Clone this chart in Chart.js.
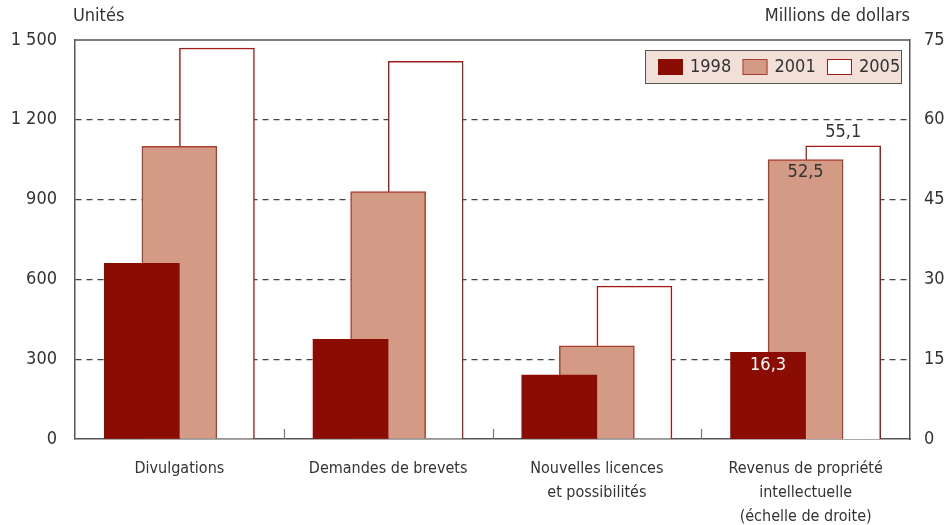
<!DOCTYPE html>
<html>
<head>
<meta charset="utf-8">
<script src="https://cdn.jsdelivr.net/npm/chart.js@4"></script>
<style>
  html, body { margin: 0; padding: 0; background: #fff; }
  #wrap { width: 951px; height: 525px; position: relative; }
</style>
</head>
<body>
<div id="wrap"><canvas id="chart"></canvas></div>
<script>
const categories = [
  ["Divulgations"],
  ["Demandes de brevets"],
  ["Nouvelles licences", "et possibilités"],
  ["Revenus de propriété", "intellectuelle", "(échelle de droite)"],
];
const years = ["1998", "2001", "2005"];

// unités, échelle de gauche (3 premières catégories)
const units1998 = [660, 375, 240];
const units2001 = [1100, 930, 350];
const units2005 = [1470, 1420, 575];

// revenus en millions de dollars, échelle de droite (1998, 2001, 2005)
const revenue = [16.3, 52.5, 55.1];

const leftMax = 1500, leftStep = 300;
const rightMax = 75, rightStep = 15;

const FONT = "'Liberation Sans Narrow', 'DejaVu Sans Condensed', 'Roboto', sans-serif";
const TEXT = "#333";
const fills = ["#8b0c02", "#d39a86", "#ffffff"];
const strokes = ["#8b0c02", "#a8402f", "#a31a1a"];
const shift = [-0.18, 0, 0.18];

function fmt(v) {
  const s = String(v).split(".");
  s[0] = s[0].replace(/\B(?=(\d{3})+(?!\d))/g, "\u00a0");
  return s.join(",");
}

const datasets = [];
[units1998, units2001, units2005].forEach((vals, k) => {
  datasets.push({
    label: years[k],
    data: vals.map((v, i) => ({ x: i + shift[k], y: v })),
    backgroundColor: fills[k],
    borderColor: strokes[k],
    borderWidth: k ? 1.5 : 0,
    xAxisID: "xb",
    yAxisID: "y",
  });
});
revenue.forEach((v, k) => {
  datasets.push({
    label: years[k] + " revenus",
    data: [{ x: 3 + shift[k], y: v }],
    backgroundColor: fills[k],
    borderColor: strokes[k],
    borderWidth: k ? 1.5 : 0,
    xAxisID: "xb",
    yAxisID: "y2",
    revenue: true,
  });
});

// frame, inner tick marks, titles, value labels and boxed legend
const decor = {
  id: "decor",
  afterDatasetsDraw(chart) {
    const { ctx, chartArea: a } = chart;
    const xb = chart.scales.xb;
    ctx.save();
    ctx.strokeStyle = "#555";
    ctx.lineWidth = 1.5;
    ctx.beginPath();
    ctx.moveTo(a.left, a.top);
    ctx.lineTo(a.right, a.top);
    ctx.stroke();

    ctx.strokeStyle = "#777";
    ctx.lineWidth = 1.2;
    for (let i = 0; i < categories.length - 1; i++) {
      const px = Math.round(xb.getPixelForValue(i + 0.5)) + 0.5;
      ctx.beginPath();
      ctx.moveTo(px, a.bottom);
      ctx.lineTo(px, a.bottom - 10);
      ctx.stroke();
    }

    ctx.font = "18px " + FONT;
    ctx.fillStyle = TEXT;
    ctx.textBaseline = "middle";
    ctx.textAlign = "left";
    ctx.fillText("Unités", a.left - 2, 16);
    ctx.textAlign = "right";
    ctx.fillText("Millions de dollars", a.right, 16);

    // revenue values
    ctx.textAlign = "center";
    chart.data.datasets.forEach((ds, di) => {
      if (!ds.revenue) return;
      const bar = chart.getDatasetMeta(di).data[0];
      const k = di - 3;
      const txt = fmt(revenue[k]);
      if (k === 0) {
        ctx.fillStyle = "#fff";
        ctx.fillText(txt, bar.x, bar.y + 13);
      } else if (k === 1) {
        ctx.fillStyle = TEXT;
        ctx.fillText(txt, bar.x, bar.y + 13);
      } else {
        ctx.fillStyle = TEXT;
        ctx.fillText(txt, bar.x, bar.y - 14);
      }
    });

    // legend box
    const bx = a.right - 265, by = a.top + 10, bw = 256, bh = 33;
    ctx.fillStyle = "#f2dfd8";
    ctx.fillRect(bx, by, bw, bh);
    ctx.strokeStyle = "#555";
    ctx.lineWidth = 1;
    ctx.strokeRect(bx + 0.5, by + 0.5, bw, bh);
    years.forEach((y, k) => {
      const sx = bx + 13 + k * 84.5;
      const sy = by + 9;
      ctx.fillStyle = fills[k];
      ctx.fillRect(sx, sy, 25, 16);
      ctx.strokeStyle = strokes[k];
      ctx.lineWidth = 1;
      ctx.strokeRect(sx + 0.5, sy + 0.5, 24, 15);
      ctx.fillStyle = TEXT;
      ctx.textAlign = "left";
      ctx.fillText(y, sx + 32, by + bh / 2 + 1);
    });
    ctx.restore();
  },
};

new Chart(document.getElementById("chart"), {
  type: "bar",
  data: { labels: categories, datasets },
  plugins: [decor],
  options: {
    responsive: true,
    maintainAspectRatio: false,
    animation: false,
    layout: { padding: { top: 40 } },
    datasets: { bar: { grouped: false, barThickness: 75, borderSkipped: "start" } },
    plugins: { legend: { display: false }, tooltip: { enabled: false } },
    scales: {
      x: {
        type: "category",
        position: "bottom",
        offset: true,
        grid: { display: false },
        border: { display: true, color: "#555", width: 1.5 },
        ticks: {
          color: TEXT,
          font: { family: FONT, size: 16, lineHeight: 1.5 },
          padding: 10,
          maxRotation: 0,
          autoSkip: false,
        },
        afterFit: (s) => { s.height = 86; },
      },
      xb: { type: "linear", display: false, offset: false, min: -0.5, max: 3.5 },
      y: {
        position: "left",
        min: 0,
        max: leftMax,
        ticks: {
          stepSize: leftStep,
          color: TEXT,
          font: { family: FONT, size: 18 },
          padding: 18,
          callback: (v) => fmt(v),
        },
        grid: {
          drawTicks: false,
          lineWidth: 1.2,
          color: (c) => (c.tick && (c.tick.value === 0 || c.tick.value === leftMax) ? "rgba(0,0,0,0)" : "#444"),
        },
        border: { color: "#555", width: 1.5, dash: [6, 5] },
        afterFit: (s) => { s.width = 75; },
      },
      y2: {
        position: "right",
        min: 0,
        max: rightMax,
        ticks: {
          stepSize: rightStep,
          color: TEXT,
          font: { family: FONT, size: 18 },
          padding: 14,
          callback: (v) => fmt(v),
        },
        grid: { display: false, drawTicks: false },
        border: { color: "#555", width: 1.5 },
        afterFit: (s) => { s.width = 41; },
      },
    },
  },
});
</script>
</body>
</html>
